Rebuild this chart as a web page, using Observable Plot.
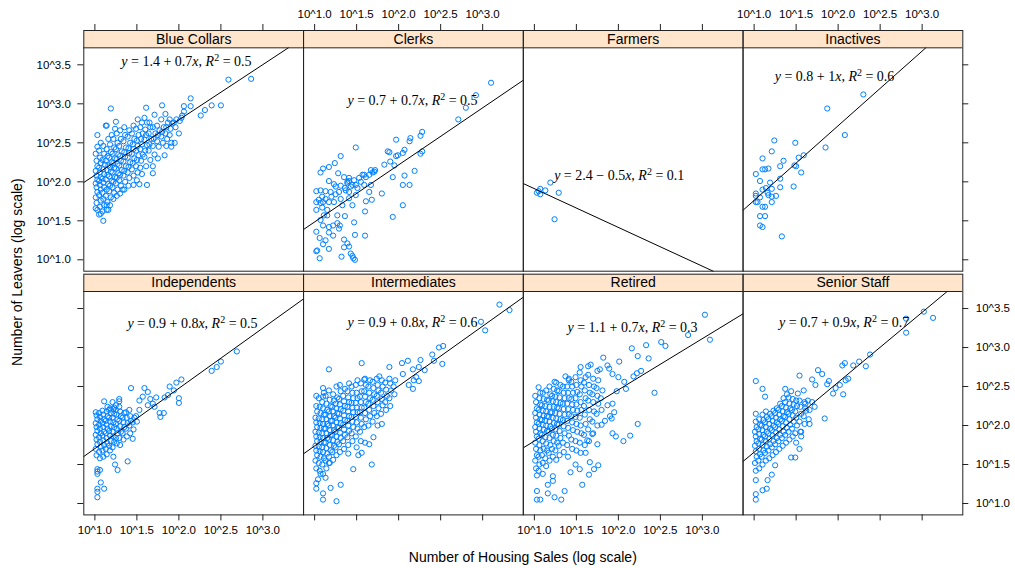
<!DOCTYPE html>
<html><head><meta charset="utf-8">
<script src="https://cdn.jsdelivr.net/npm/d3@7"></script>
<script src="https://cdn.jsdelivr.net/npm/@observablehq/plot@0.6"></script>
<style>body{margin:0;background:#fff}#chart svg{display:block}</style>
</head><body><div id="chart"></div>
<script>
// ---------------- data ----------------
const panelNames = ["Blue Collars","Clerks","Farmers","Inactives","Independents","Intermediates","Retired","Senior Staff"];
const panelCol = [0,1,2,3,0,1,2,3];
const panelRow = [0,0,0,0,1,1,1,1];
// fitted lines (log10 leavers = a + b * log10 sales)
const fitIntercept = [1.376,0.754,2.409,0.805,0.932,0.971,1.144,0.761];
const fitSlope = [0.709,0.7315,-0.497,0.957,0.7725,0.7676,0.6567,0.8967];
const eqLabels = ["y = 1.4 + 0.7x, R2 = 0.5","y = 0.7 + 0.7x, R2 = 0.5","y = 2.4 − 0.5x, R2 = 0.1","y = 0.8 + 1x, R2 = 0.6",
  "y = 0.9 + 0.8x, R2 = 0.5","y = 0.9 + 0.8x, R2 = 0.6","y = 1.1 + 0.7x, R2 = 0.3","y = 0.7 + 0.9x, R2 = 0.7"];
const eqX = [2.09,2.165,2.01,1.957,2.162,2.165,2.168,2.072];
const eqY = [3.54,3.046,2.085,3.35,3.308,3.32,3.26,3.32];
const xTicks = [1.0,1.5,2.0,2.5,3.0];
const xTickLabels = ["10^1.0","10^1.5","10^2.0","10^2.5","10^3.0"];
const yTicks = [1.0,1.5,2.0,2.5,3.0,3.5];
const yTickLabels = ["10^1.0","10^1.5","10^2.0","10^2.5","10^3.0","10^3.5"];

const ptsBlueCollars = [
[1.01,1.66],[1.02,1.73],[1.01,1.8],[1.03,1.87],[1.02,1.93],[1.01,1.98],[1.03,2.03],[1.02,2.08],[1.01,2.14],[1.03,2.2],[1.02,2.27],[1.01,2.36],[1.03,2.45],[1.03,2.6],
[1.05,1.58],[1.06,1.68],[1.07,1.76],[1.05,1.83],[1.07,1.9],[1.06,1.96],[1.05,2.01],[1.07,2.06],[1.06,2.12],[1.05,2.18],[1.07,2.24],[1.06,2.31],[1.05,2.4],[1.07,2.5],
[1.10,1.50],[1.09,1.62],[1.11,1.70],[1.10,1.78],[1.09,1.86],[1.11,1.93],[1.10,1.99],[1.09,2.04],[1.11,2.10],[1.10,2.16],[1.12,2.22],[1.09,2.28],[1.11,2.36],[1.10,2.46],
[1.14,1.64],[1.15,1.74],[1.13,1.82],[1.14,1.90],[1.16,1.97],[1.13,2.03],[1.15,2.09],[1.14,2.15],[1.16,2.21],[1.13,2.27],[1.15,2.33],[1.14,2.42],[1.16,2.55],[1.14,2.72],
[1.18,1.70],[1.19,1.80],[1.17,1.88],[1.18,1.95],[1.20,2.01],[1.17,2.07],[1.19,2.13],[1.18,2.19],[1.20,2.25],[1.17,2.31],[1.19,2.38],[1.18,2.48],[1.20,2.60],[1.19,2.94],
[1.22,1.78],[1.23,1.86],[1.21,1.93],[1.22,2.00],[1.24,2.06],[1.21,2.12],[1.23,2.18],[1.22,2.24],[1.24,2.30],[1.21,2.36],[1.23,2.44],[1.22,2.55],[1.24,2.68],
[1.26,1.82],[1.27,1.90],[1.25,1.98],[1.26,2.05],[1.28,2.11],[1.25,2.17],[1.27,2.23],[1.26,2.29],[1.28,2.35],[1.25,2.42],[1.27,2.50],[1.26,2.62],[1.25,2.77],
[1.30,1.85],[1.31,1.95],[1.29,2.02],[1.30,2.09],[1.32,2.15],[1.29,2.21],[1.31,2.27],[1.30,2.33],[1.32,2.39],[1.29,2.46],[1.31,2.55],[1.30,2.66],
[1.35,1.90],[1.36,2.00],[1.34,2.08],[1.35,2.14],[1.37,2.20],[1.34,2.26],[1.36,2.32],[1.35,2.38],[1.37,2.44],[1.34,2.52],[1.36,2.60],[1.35,2.70],
[1.40,1.95],[1.41,2.05],[1.39,2.12],[1.40,2.19],[1.42,2.25],[1.39,2.31],[1.41,2.37],[1.40,2.43],[1.42,2.50],[1.39,2.58],[1.41,2.66],
[1.46,1.96],[1.46,2.08],[1.44,2.16],[1.45,2.24],[1.47,2.30],[1.44,2.36],[1.46,2.42],[1.45,2.48],[1.47,2.55],[1.44,2.62],[1.46,2.72],
[1.50,2.02],[1.51,2.12],[1.49,2.20],[1.50,2.28],[1.52,2.34],[1.49,2.40],[1.51,2.46],[1.50,2.53],[1.52,2.60],[1.49,2.68],[1.51,2.80],
[1.53,1.97],[1.56,2.10],[1.54,2.18],[1.55,2.27],[1.57,2.35],[1.54,2.42],[1.56,2.48],[1.55,2.55],[1.57,2.62],[1.54,2.70],[1.56,2.76],
[1.62,1.96],[1.61,2.20],[1.59,2.32],[1.60,2.40],[1.62,2.47],[1.59,2.54],[1.61,2.60],[1.60,2.67],[1.62,2.76],[1.59,2.82],[1.61,2.95],
[1.69,2.11],[1.66,2.28],[1.64,2.40],[1.65,2.48],[1.67,2.55],[1.64,2.62],[1.66,2.70],[1.65,2.76],
[1.69,2.20],[1.71,2.35],[1.69,2.46],[1.70,2.55],[1.72,2.62],[1.69,2.70],[1.71,2.86],
[1.75,2.30],[1.76,2.45],[1.74,2.52],[1.75,2.60],[1.77,2.66],[1.74,2.72],
[1.83,2.34],[1.81,2.50],[1.79,2.58],[1.80,2.64],[1.82,2.70],[1.79,2.80],[1.80,2.98],
[1.85,2.46],[1.86,2.55],[1.84,2.62],[1.85,2.70],[1.87,2.76],[1.84,2.87],
[1.91,2.45],[1.91,2.50],[1.89,2.60],[1.90,2.68],[1.92,2.75],[1.89,2.80],
[1.95,2.50],[1.96,2.70],[1.94,2.76],[1.97,2.80],
[2.00,2.62],[2.01,2.78],[2.03,2.82],[2.04,2.85],
[2.06,2.90],[2.06,2.97],[2.14,2.97],[2.14,3.07],[2.26,2.85],[2.31,2.92],[2.39,2.98],[2.50,2.98],[2.59,3.31],[2.86,3.32],
[1.33,1.90],[1.13,2.72],[1.03,1.64],[1.07,1.59],[1.16,1.64],[1.14,1.70]
];
const ptsClerks = [
[3.10,3.27],[2.92,3.11],[2.80,2.95],[2.71,2.80],[2.28,2.64],[2.26,2.59],[2.14,2.56],[2.13,2.52],[1.97,2.54],[2.28,2.39],[2.26,2.36],[2.07,2.41],[2.05,2.37],[1.99,2.34],[1.87,2.39],[1.89,2.38],[1.97,2.33],
[1.49,2.44],[1.31,2.33],[1.24,2.24],[1.17,2.19],[1.10,2.17],[1.07,2.12],[1.83,2.22],[1.90,2.26],[1.95,2.21],[2.19,2.14],[2.07,2.08],[1.93,2.06],[2.05,1.96],[2.13,1.96],
[1.72,2.15],[1.69,2.12],[1.65,2.09],[1.61,2.06],[1.57,2.09],[1.53,2.05],[1.47,2.02],[1.41,2.01],[1.35,2.06],[1.28,2.11],[1.17,2.01],[1.23,1.97],[1.31,1.95],[1.39,1.98],[1.45,1.96],[1.51,1.92],[1.59,1.96],[1.67,1.96],
[1.65,1.87],[1.80,1.85],[1.68,1.77],[1.61,1.75],[1.49,1.83],[1.41,1.87],[1.37,1.89],[1.29,1.87],[1.25,1.84],[1.19,1.87],[1.13,1.88],[1.07,1.89],[1.02,1.88],
[1.02,1.74],[1.07,1.73],[1.13,1.78],[1.17,1.74],[1.23,1.74],[1.31,1.78],[1.33,1.70],[1.41,1.79],[1.45,1.70],[1.02,1.64],[1.09,1.67],[1.15,1.64],[1.11,1.57],[1.27,1.57],[1.36,1.56],[1.60,1.62],[2.05,1.70],[1.93,1.55],
[1.47,1.48],[1.07,1.51],[1.10,1.44],[1.17,1.42],[1.22,1.44],[1.27,1.47],[1.30,1.44],[1.17,1.35],[1.22,1.31],[1.02,1.36],[1.06,1.28],[1.13,1.25],[1.35,1.26],[1.48,1.32],[1.60,1.31],
[1.39,1.21],[1.41,1.17],[1.35,1.16],[1.10,1.20],[1.17,1.14],[1.02,1.11],[1.03,1.12],[1.06,1.02],[1.32,1.04],[1.43,1.08],[1.45,1.05],[1.48,1.00],[1.46,1.02],
[1.09,1.81],[1.20,1.81],[1.36,1.92],[1.43,1.94],[1.55,2.00],[1.59,2.09],[1.67,2.15],[1.71,2.13],[1.41,2.05],[1.39,2.00],[1.49,1.96],[1.25,1.94],[1.10,1.74],[1.15,1.57],[1.29,1.40],[1.05,1.77]
];
const ptsFarmers = [[1.19,1.99],[1.07,1.91],[1.03,1.86],[1.07,1.84],[1.13,1.89],[1.29,1.86],[1.24,1.52],[1.05,1.88]];
const ptsInactives = [
[2.30,3.12],[1.87,2.94],[2.08,2.60],[1.24,2.53],[1.49,2.50],[1.21,2.39],[1.85,2.44],[1.59,2.34],[1.53,2.31],[1.35,2.27],[1.10,2.30],[1.31,2.20],[1.48,2.21],[1.50,2.20],[1.56,2.12],
[1.10,2.16],[1.13,2.16],[1.17,2.17],[1.02,2.10],[1.07,2.01],[1.19,1.99],[1.31,2.04],[1.31,1.93],[1.47,1.94],[1.10,1.90],[1.14,1.92],[1.21,1.91],[1.16,1.86],[1.17,1.83],[1.26,1.82],[1.21,1.81],
[1.02,1.85],[1.02,1.82],[1.04,1.74],[1.21,1.74],[1.10,1.68],[1.13,1.68],[1.07,1.56],[1.13,1.56],[1.07,1.44],[1.10,1.42],[1.33,1.30],[1.02,1.74],[1.07,1.80]
];
const ptsIndependents = [
[2.69,2.95],[2.50,2.82],[2.45,2.75],[2.39,2.70],[2.03,2.59],[1.97,2.55],[1.89,2.50],[1.94,2.45],[1.87,2.39],[1.83,2.36],[2.00,2.35],[2.00,2.29],[1.43,2.48],[1.59,2.48],[1.63,2.43],[1.57,2.37],
[1.66,2.34],[1.73,2.36],[1.53,2.32],[1.69,2.28],[1.63,2.26],[1.71,2.24],[1.77,2.16],[1.82,2.16],[1.78,2.11],[1.53,2.20],[1.11,2.31],[1.29,2.34],[1.29,2.31],[1.25,2.26],[1.23,2.23],[1.17,2.20],
[1.03,1.44],[1.03,1.38],[1.06,1.43],[1.07,1.27],[1.03,1.19],[1.11,1.19],[1.03,1.15],[1.03,1.08],[1.27,1.43],[1.24,1.50],[1.39,1.54],[1.45,1.83],[1.03,1.41],
[1.02,1.62],[1.01,1.70],[1.03,1.76],[1.02,1.82],[1.01,1.88],[1.03,1.93],[1.02,1.98],[1.01,2.03],[1.03,2.08],[1.02,2.13],[1.01,2.17],
[1.06,1.58],[1.05,1.66],[1.07,1.73],[1.06,1.79],[1.05,1.85],[1.07,1.90],[1.06,1.96],[1.05,2.01],[1.07,2.06],[1.06,2.11],[1.05,2.16],
[1.10,1.60],[1.09,1.68],[1.11,1.75],[1.10,1.81],[1.09,1.87],[1.11,1.92],[1.10,1.98],[1.09,2.03],[1.11,2.08],[1.10,2.14],[1.09,2.19],
[1.14,1.63],[1.13,1.70],[1.15,1.77],[1.14,1.84],[1.13,1.90],[1.15,1.96],[1.14,2.01],[1.13,2.06],[1.15,2.12],[1.14,2.18],[1.15,2.24],
[1.18,1.68],[1.17,1.74],[1.19,1.80],[1.18,1.87],[1.17,1.93],[1.19,1.99],[1.18,2.05],[1.17,2.10],[1.19,2.16],[1.18,2.22],
[1.22,1.60],[1.21,1.72],[1.23,1.79],[1.22,1.86],[1.21,1.92],[1.23,1.98],[1.22,2.04],[1.21,2.10],[1.23,2.15],[1.22,2.21],[1.21,2.30],
[1.26,1.77],[1.25,1.84],[1.27,1.90],[1.26,1.96],[1.25,2.02],[1.27,2.08],[1.26,2.14],[1.25,2.20],
[1.30,1.75],[1.29,1.84],[1.31,1.92],[1.30,1.99],[1.29,2.06],[1.31,2.12],[1.30,2.18],[1.29,2.24],
[1.34,1.82],[1.33,1.90],[1.35,1.98],[1.34,2.04],[1.33,2.10],[1.35,2.16],
[1.38,1.86],[1.37,1.96],[1.39,2.03],[1.38,2.10],[1.37,2.17],
[1.42,1.90],[1.41,2.00],[1.43,2.06],[1.42,2.12],[1.41,2.20],
[1.46,1.95],[1.45,2.04],[1.47,2.10],[1.50,2.05],[1.49,2.12]
];
const ptsIntermediates = [
[3.20,3.55],[3.32,3.48],[2.98,3.33],[3.03,3.22],[2.48,3.00],[2.53,3.02],[2.40,2.91],[2.42,2.83],[2.52,2.79],[2.26,2.84],[2.11,2.83],[2.04,2.80],[2.17,2.72],[2.31,2.71],[2.24,2.75],[2.05,2.66],
[2.21,2.62],[2.24,2.57],[2.18,2.58],[2.12,2.52],[2.17,2.47],[1.89,2.75],[1.56,2.80],[1.17,2.72],[1.77,2.63],[1.59,2.59],[1.10,2.48],[1.02,2.38],[1.10,2.37],
[1.46,1.44],[1.68,1.50],[1.31,1.24],[1.19,1.20],[1.10,1.13],[1.10,1.05],[1.26,1.03],[1.02,1.26],[1.02,1.19],[1.17,1.52],[1.52,1.62],[1.56,1.65],[1.40,1.64],[1.07,1.38],[1.13,1.33],[1.04,1.31],
[1.02,1.45],[1.01,1.55],[1.03,1.62],[1.02,1.68],[1.01,1.74],[1.03,1.80],[1.02,1.86],[1.01,1.92],[1.03,1.98],[1.02,2.04],[1.01,2.10],[1.03,2.18],[1.02,2.25],
[1.06,1.42],[1.05,1.52],[1.07,1.60],[1.06,1.67],[1.05,1.73],[1.07,1.79],[1.06,1.85],[1.05,1.91],[1.07,1.97],[1.06,2.03],[1.05,2.09],[1.07,2.16],[1.06,2.24],[1.05,2.35],
[1.10,1.38],[1.09,1.50],[1.11,1.58],[1.10,1.66],[1.09,1.72],[1.11,1.78],[1.10,1.84],[1.09,1.90],[1.11,1.96],[1.10,2.02],[1.09,2.08],[1.11,2.14],[1.10,2.22],[1.09,2.30],[1.11,2.42],
[1.14,1.45],[1.13,1.55],[1.15,1.64],[1.14,1.71],[1.13,1.78],[1.15,1.84],[1.14,1.90],[1.13,1.96],[1.15,2.02],[1.14,2.08],[1.13,2.14],[1.15,2.20],[1.14,2.28],[1.13,2.38],
[1.18,1.52],[1.17,1.60],[1.19,1.68],[1.18,1.75],[1.17,1.82],[1.19,1.88],[1.18,1.94],[1.17,2.00],[1.19,2.06],[1.18,2.12],[1.17,2.18],[1.19,2.25],[1.18,2.33],[1.17,2.45],
[1.22,1.56],[1.21,1.66],[1.23,1.74],[1.22,1.81],[1.21,1.88],[1.23,1.94],[1.22,2.00],[1.21,2.06],[1.23,2.12],[1.22,2.18],[1.21,2.24],[1.23,2.32],[1.22,2.40],
[1.26,1.62],[1.25,1.72],[1.27,1.79],[1.26,1.86],[1.25,1.92],[1.27,1.98],[1.26,2.04],[1.25,2.10],[1.27,2.16],[1.26,2.22],[1.25,2.28],[1.27,2.36],[1.26,2.50],
[1.30,1.66],[1.29,1.76],[1.31,1.84],[1.30,1.91],[1.29,1.97],[1.31,2.03],[1.30,2.09],[1.29,2.15],[1.31,2.21],[1.30,2.27],[1.29,2.34],[1.31,2.44],[1.30,2.52],
[1.35,1.70],[1.34,1.80],[1.36,1.88],[1.35,1.95],[1.34,2.01],[1.36,2.07],[1.35,2.13],[1.34,2.19],[1.36,2.25],[1.35,2.31],[1.34,2.38],[1.36,2.47],
[1.40,1.75],[1.39,1.85],[1.41,1.93],[1.40,2.00],[1.39,2.06],[1.41,2.12],[1.40,2.18],[1.39,2.24],[1.41,2.30],[1.40,2.36],[1.39,2.44],[1.41,2.54],
[1.45,1.80],[1.44,1.90],[1.46,1.98],[1.45,2.05],[1.44,2.11],[1.46,2.17],[1.45,2.23],[1.44,2.29],[1.46,2.35],[1.45,2.42],[1.44,2.50],
[1.50,1.72],[1.49,1.86],[1.51,1.96],[1.50,2.04],[1.49,2.11],[1.51,2.17],[1.50,2.23],[1.49,2.29],[1.51,2.35],[1.50,2.42],[1.49,2.52],[1.51,2.58],
[1.55,1.80],[1.54,1.92],[1.56,2.02],[1.55,2.10],[1.54,2.17],[1.56,2.23],[1.55,2.30],[1.54,2.37],[1.56,2.44],[1.55,2.54],
[1.60,1.78],[1.59,1.98],[1.61,2.08],[1.60,2.16],[1.59,2.23],[1.61,2.30],[1.60,2.37],[1.59,2.44],[1.61,2.52],[1.60,2.60],
[1.65,1.76],[1.64,2.00],[1.66,2.12],[1.65,2.20],[1.64,2.28],[1.66,2.35],[1.65,2.42],[1.64,2.50],[1.66,2.58],
[1.70,1.85],[1.69,2.05],[1.71,2.16],[1.70,2.25],[1.69,2.33],[1.71,2.40],[1.70,2.48],[1.69,2.56],
[1.75,2.00],[1.74,2.12],[1.76,2.22],[1.75,2.30],[1.74,2.38],[1.76,2.45],[1.75,2.52],[1.74,2.60],
[1.80,2.02],[1.79,2.15],[1.81,2.26],[1.80,2.34],[1.79,2.42],[1.81,2.50],[1.80,2.58],
[1.85,2.20],[1.84,2.30],[1.86,2.38],[1.85,2.46],[1.84,2.55],
[1.90,2.25],[1.89,2.35],[1.91,2.45],[1.90,2.54],[1.89,2.60],
[1.95,2.40],[1.94,2.50],[1.96,2.58]
];
const ptsRetired = [
[3.03,3.42],[3.09,3.10],[2.83,3.16],[2.51,3.07],[2.56,3.02],[2.33,3.03],[2.16,2.99],[2.23,2.89],[2.36,2.86],[2.01,2.82],[1.82,2.87],[1.87,2.77],[1.89,2.73],[1.67,2.78],[1.64,2.76],[1.55,2.75],
[1.78,2.72],[2.27,2.70],[2.22,2.67],[2.18,2.63],[2.00,2.62],[1.93,2.66],[2.07,2.56],[2.09,2.47],[1.98,2.44],[2.43,2.42],[2.23,2.02],[2.14,1.87],[2.06,1.80],[1.97,1.86],[1.93,1.90],
[1.80,2.01],[1.84,2.06],[1.92,2.09],[1.90,2.12],[1.95,2.17],[1.93,2.28],[1.87,2.26],[1.75,1.76],[1.69,1.89],[1.63,1.81],[1.61,1.65],[1.66,1.53],[1.76,1.49],[1.71,1.44],[1.65,1.37],
[1.54,1.44],[1.49,1.50],[1.43,1.40],[1.57,1.24],[1.36,1.16],[1.32,1.05],[1.24,1.08],[1.16,1.13],[1.03,1.16],[1.03,1.05],[1.07,1.05],[1.22,1.29],[1.16,1.24],[1.22,1.35],[1.03,1.36],[1.10,1.38],[1.05,1.42],
[1.37,2.63],[1.41,2.58],[1.24,2.56],[1.05,2.49],[1.07,2.42],
[1.02,1.45],[1.01,1.55],[1.03,1.62],[1.02,1.70],[1.01,1.78],[1.03,1.86],[1.02,1.92],[1.01,1.98],[1.03,2.04],[1.02,2.10],[1.01,2.16],[1.03,2.22],[1.02,2.30],[1.01,2.38],
[1.06,1.50],[1.05,1.60],[1.07,1.68],[1.06,1.75],[1.05,1.83],[1.07,1.90],[1.06,1.96],[1.05,2.02],[1.07,2.08],[1.06,2.14],[1.05,2.20],[1.07,2.27],[1.06,2.35],
[1.10,1.52],[1.09,1.62],[1.11,1.70],[1.10,1.80],[1.09,1.88],[1.11,1.95],[1.10,2.01],[1.09,2.07],[1.11,2.13],[1.10,2.19],[1.09,2.26],[1.11,2.34],[1.10,2.42],
[1.14,1.48],[1.13,1.58],[1.15,1.68],[1.14,1.77],[1.13,1.85],[1.15,1.93],[1.14,2.00],[1.13,2.06],[1.15,2.12],[1.14,2.18],[1.13,2.25],[1.15,2.33],[1.14,2.45],
[1.18,1.55],[1.17,1.65],[1.19,1.75],[1.18,1.84],[1.17,1.92],[1.19,1.99],[1.18,2.05],[1.17,2.11],[1.19,2.17],[1.18,2.24],[1.17,2.32],[1.19,2.40],[1.18,2.50],
[1.22,1.60],[1.21,1.70],[1.23,1.80],[1.22,1.88],[1.21,1.96],[1.23,2.03],[1.22,2.10],[1.21,2.17],[1.23,2.24],[1.22,2.31],[1.21,2.38],[1.23,2.47],
[1.26,1.56],[1.25,1.68],[1.27,1.78],[1.26,1.87],[1.25,1.95],[1.27,2.02],[1.26,2.09],[1.25,2.16],[1.27,2.23],[1.26,2.30],[1.25,2.37],[1.27,2.45],[1.26,2.55],
[1.30,1.62],[1.29,1.74],[1.31,1.84],[1.30,1.93],[1.29,2.01],[1.31,2.08],[1.30,2.15],[1.29,2.22],[1.31,2.29],[1.30,2.36],[1.29,2.44],[1.31,2.52],
[1.35,1.66],[1.34,1.78],[1.36,1.90],[1.35,1.99],[1.34,2.07],[1.36,2.14],[1.35,2.21],[1.34,2.28],[1.36,2.35],[1.35,2.42],[1.34,2.50],
[1.40,1.60],[1.39,1.75],[1.41,1.87],[1.40,1.97],[1.39,2.06],[1.41,2.14],[1.40,2.21],[1.39,2.28],[1.41,2.35],[1.40,2.42],[1.39,2.50],[1.41,2.60],
[1.45,1.70],[1.44,1.82],[1.46,1.94],[1.45,2.04],[1.44,2.12],[1.46,2.20],[1.45,2.27],[1.44,2.34],[1.46,2.42],[1.45,2.50],[1.44,2.56],
[1.50,1.68],[1.49,1.80],[1.51,1.92],[1.50,2.02],[1.49,2.11],[1.51,2.19],[1.50,2.27],[1.49,2.35],[1.51,2.43],[1.50,2.52],[1.49,2.62],
[1.55,1.65],[1.54,1.78],[1.56,1.90],[1.55,2.00],[1.54,2.10],[1.56,2.20],[1.55,2.30],[1.54,2.40],[1.56,2.50],[1.55,2.58],[1.54,2.68],
[1.60,1.75],[1.59,1.88],[1.61,2.02],[1.60,2.14],[1.59,2.25],[1.61,2.35],[1.60,2.45],[1.59,2.55],[1.61,2.62],
[1.65,1.80],[1.64,1.95],[1.66,2.08],[1.65,2.20],[1.64,2.32],[1.66,2.42],[1.65,2.52],[1.64,2.65],
[1.70,1.90],[1.69,2.05],[1.71,2.18],[1.70,2.30],[1.69,2.40],[1.71,2.50],[1.70,2.60],
[1.75,2.00],[1.74,2.15],[1.76,2.28],[1.75,2.38],[1.74,2.48],[1.76,2.58],[1.75,2.70],
[1.80,2.20],[1.79,2.35],[1.81,2.45]
];
const ptsSeniorStaff = [
[3.02,3.46],[3.13,3.38],[2.81,3.37],[2.81,3.19],[2.38,2.91],[2.33,2.76],[2.25,2.82],[2.18,2.77],[2.08,2.80],[2.05,2.77],[2.12,2.60],[2.09,2.58],[2.02,2.52],[2.06,2.40],[1.94,2.41],[1.97,2.48],
[1.89,2.57],[1.87,2.53],[1.81,2.66],[1.76,2.71],[1.69,2.59],[1.73,2.52],[1.54,2.64],[1.59,2.45],[1.84,2.09],[1.66,2.02],[1.54,1.70],[1.49,1.59],[1.44,1.59],[1.25,1.49],[1.21,1.37],
[1.16,1.30],[1.02,1.30],[1.15,1.19],[1.10,1.17],[1.02,1.12],[1.02,1.05],[1.02,2.57],[1.10,2.47],[1.13,2.37],[1.02,2.15],[1.37,2.47],[1.39,2.40],[1.44,2.44],[1.52,2.41],[1.64,2.32],
[1.61,2.28],[1.69,2.30],[1.72,2.24],[1.62,2.19],[1.56,1.92],[1.56,1.86],
[1.02,1.42],[1.01,1.52],[1.03,1.60],[1.02,1.67],[1.01,1.74],[1.03,1.80],[1.02,1.86],[1.01,1.92],[1.03,1.98],[1.02,2.05],
[1.06,1.45],[1.05,1.55],[1.07,1.63],[1.06,1.70],[1.05,1.77],[1.07,1.83],[1.06,1.89],[1.05,1.95],[1.07,2.01],[1.06,2.08],
[1.10,1.50],[1.09,1.60],[1.11,1.68],[1.10,1.75],[1.09,1.82],[1.11,1.88],[1.10,1.94],[1.09,2.00],[1.11,2.07],[1.10,2.14],
[1.14,1.55],[1.13,1.65],[1.15,1.73],[1.14,1.80],[1.13,1.86],[1.15,1.92],[1.14,1.98],[1.13,2.04],[1.15,2.11],[1.14,2.18],
[1.18,1.58],[1.17,1.68],[1.19,1.76],[1.18,1.83],[1.17,1.90],[1.19,1.96],[1.18,2.02],[1.17,2.08],[1.19,2.15],
[1.22,1.62],[1.21,1.72],[1.23,1.80],[1.22,1.87],[1.21,1.94],[1.23,2.00],[1.22,2.06],[1.21,2.12],[1.23,2.19],
[1.26,1.66],[1.25,1.76],[1.27,1.84],[1.26,1.91],[1.25,1.98],[1.27,2.04],[1.26,2.10],[1.25,2.16],[1.27,2.22],
[1.30,1.70],[1.29,1.80],[1.31,1.88],[1.30,1.95],[1.29,2.02],[1.31,2.08],[1.30,2.14],[1.29,2.20],[1.31,2.28],
[1.34,1.74],[1.33,1.84],[1.35,1.92],[1.34,1.99],[1.33,2.06],[1.35,2.12],[1.34,2.18],[1.33,2.25],[1.35,2.35],
[1.38,1.78],[1.37,1.88],[1.39,1.97],[1.38,2.04],[1.37,2.11],[1.39,2.17],[1.38,2.23],[1.37,2.30],
[1.42,1.82],[1.41,1.92],[1.43,2.01],[1.42,2.08],[1.41,2.15],[1.43,2.22],[1.42,2.28],[1.41,2.36],
[1.46,1.86],[1.45,1.96],[1.47,2.05],[1.46,2.13],[1.45,2.20],[1.47,2.27],[1.46,2.34],
[1.50,1.78],[1.49,1.90],[1.51,2.00],[1.50,2.10],[1.49,2.18],[1.51,2.25],[1.50,2.32],
[1.55,1.92],[1.54,2.05],[1.56,2.15],[1.55,2.24],[1.54,2.32],
[1.60,2.02],[1.59,2.12],[1.61,2.22],[1.60,2.30],[1.65,2.08],[1.66,2.20]
];
const pointSets = [ptsBlueCollars, ptsClerks, ptsFarmers, ptsInactives, ptsIndependents, ptsIntermediates, ptsRetired, ptsSeniorStaff];

// ---------------- layout (scale domains) ----------------
const X_DOMAIN = [0.868, 3.484];
const Y_MIN = 0.854, Y_PANEL_TOP = 3.718, Y_TOP = 3.94;
const TICK = 6;
const INK = "#222";

const points = pointSets.flatMap((pts, i) => pts.map(([x, y]) => ({x, y, col: panelCol[i], row: panelRow[i]})));
const panels = panelNames.map((name, i) => ({name, col: panelCol[i], row: panelRow[i], eq: eqLabels[i], ex: eqX[i], ey: eqY[i]}));
const fitLines = panelNames.flatMap((name, i) => {
  const a = fitIntercept[i], b = fitSlope[i];
  let x0 = X_DOMAIN[0], x1 = X_DOMAIN[1];
  const xa = (Y_MIN - a) / b, xb = (Y_PANEL_TOP - a) / b;
  x0 = Math.max(x0, Math.min(xa, xb));
  x1 = Math.min(x1, Math.max(xa, xb));
  return [x0, x1].map(x => ({name, x, y: a + b * x, col: panelCol[i], row: panelRow[i]}));
});
const xAxisData = (row, cols) => cols.flatMap(col => xTicks.map((v, j) => ({v, label: xTickLabels[j], col, row})));
const yAxisData = (col, rows) => rows.flatMap(row => yTicks.map((v, j) => ({v, label: yTickLabels[j], col, row})));
const F = {fx: "col", fy: "row"};

const chart = Plot.plot({
  width: 1015, height: 568,
  marginTop: 30, marginBottom: 53.6, marginLeft: 83.3, marginRight: 52.7,
  x: {domain: X_DOMAIN, axis: null},
  y: {domain: [Y_MIN, Y_TOP], axis: null},
  fx: {domain: [0,1,2,3], paddingInner: 0, paddingOuter: 0, round: false, axis: null},
  fy: {domain: [0,1], paddingInner: 3/243.7, paddingOuter: 0, round: false, axis: null},
  style: {fontFamily: "'Liberation Sans', Arial, Helvetica, sans-serif", fontSize: "11.5px", background: "white", color: "black", overflow: "visible"},
  marks: [
    Plot.rect([0], {y1: Y_PANEL_TOP, y2: Y_TOP, fill: "#FFE5CC"}),
    Plot.dot(points, {x: "x", y: "y", ...F, r: 2.6, stroke: "#0080FF", strokeWidth: 1, fill: "none"}),
    Plot.line(fitLines, {x: "x", y: "y", z: "name", ...F, stroke: "black", strokeWidth: 1}),
    Plot.text(panels, {x: "ex", y: "ey", text: "eq", ...F, fontFamily: "'Liberation Serif', 'Times New Roman', serif", fontSize: 14, fill: "black"}),
    Plot.ruleY([Y_PANEL_TOP], {stroke: INK}),
    Plot.frame({stroke: INK}),
    Plot.text(panels, {text: "name", ...F, frameAnchor: "top", lineAnchor: "middle", dy: 8.6, fontSize: 14, fill: "black"}),
    // x axis ticks & labels
    Plot.ruleX(xAxisData(1, [0,1,2,3]), {x: "v", ...F, y1: Y_MIN, y2: Y_MIN, insetTop: TICK, stroke: INK}),
    Plot.ruleX(xAxisData(0, [0,1,2,3]), {x: "v", ...F, y1: Y_TOP, y2: Y_TOP, insetBottom: TICK, stroke: INK}),
    Plot.text(xAxisData(1, [0,2]), {x: "v", text: "label", ...F, frameAnchor: "bottom", lineAnchor: "middle", dy: 15, fill: "black"}),
    Plot.text(xAxisData(0, [1,3]), {x: "v", text: "label", ...F, frameAnchor: "top", lineAnchor: "middle", dy: -16, fill: "black"}),
    // y axis ticks & labels
    Plot.ruleY(yAxisData(0, [0,1]), {y: "v", ...F, x1: X_DOMAIN[0], x2: X_DOMAIN[0], insetLeft: -TICK, stroke: INK}),
    Plot.ruleY(yAxisData(3, [0,1]), {y: "v", ...F, x1: X_DOMAIN[1], x2: X_DOMAIN[1], insetRight: -TICK, stroke: INK}),
    Plot.text(yAxisData(0, [0]), {y: "v", text: "label", ...F, frameAnchor: "left", dx: -13, textAnchor: "end", fill: "black"}),
    Plot.text(yAxisData(3, [1]), {y: "v", text: "label", ...F, frameAnchor: "right", dx: 13, textAnchor: "start", fill: "black"})
  ]
});
document.getElementById("chart").appendChild(chart);

// rich text for the regression equations (italic variables, superscript)
const NS = "http://www.w3.org/2000/svg";
d3.select(chart).selectAll("text").each(function() {
  const m = /^y = (.*)x, R2 = (.*)$/.exec(this.textContent);
  if (!m) return;
  this.textContent = "";
  const add = (s, attrs = {}) => {
    const t = document.createElementNS(NS, "tspan");
    t.textContent = s;
    for (const k in attrs) t.setAttribute(k, attrs[k]);
    this.appendChild(t);
  };
  add("y", {"font-style": "italic"});
  add(" = " + m[1]);
  add("x", {"font-style": "italic"});
  add(", ");
  add("R", {"font-style": "italic"});
  add("2", {"font-size": "10", "dy": "-5"});
  add(" = " + m[2], {"dy": "5"});
});

// axis titles
const svg = d3.select(chart);
svg.append("text").attr("transform", "translate(17,272.2) rotate(-90)")
  .attr("text-anchor", "middle").attr("dy", "0.35em").style("font-size", "14px").attr("fill", "black")
  .text("Number of Leavers (log scale)");
svg.append("text").attr("x", 522.8).attr("y", 557)
  .attr("text-anchor", "middle").attr("dy", "0.35em").style("font-size", "14px").attr("fill", "black")
  .text("Number of Housing Sales (log scale)");
</script>
</body></html>
